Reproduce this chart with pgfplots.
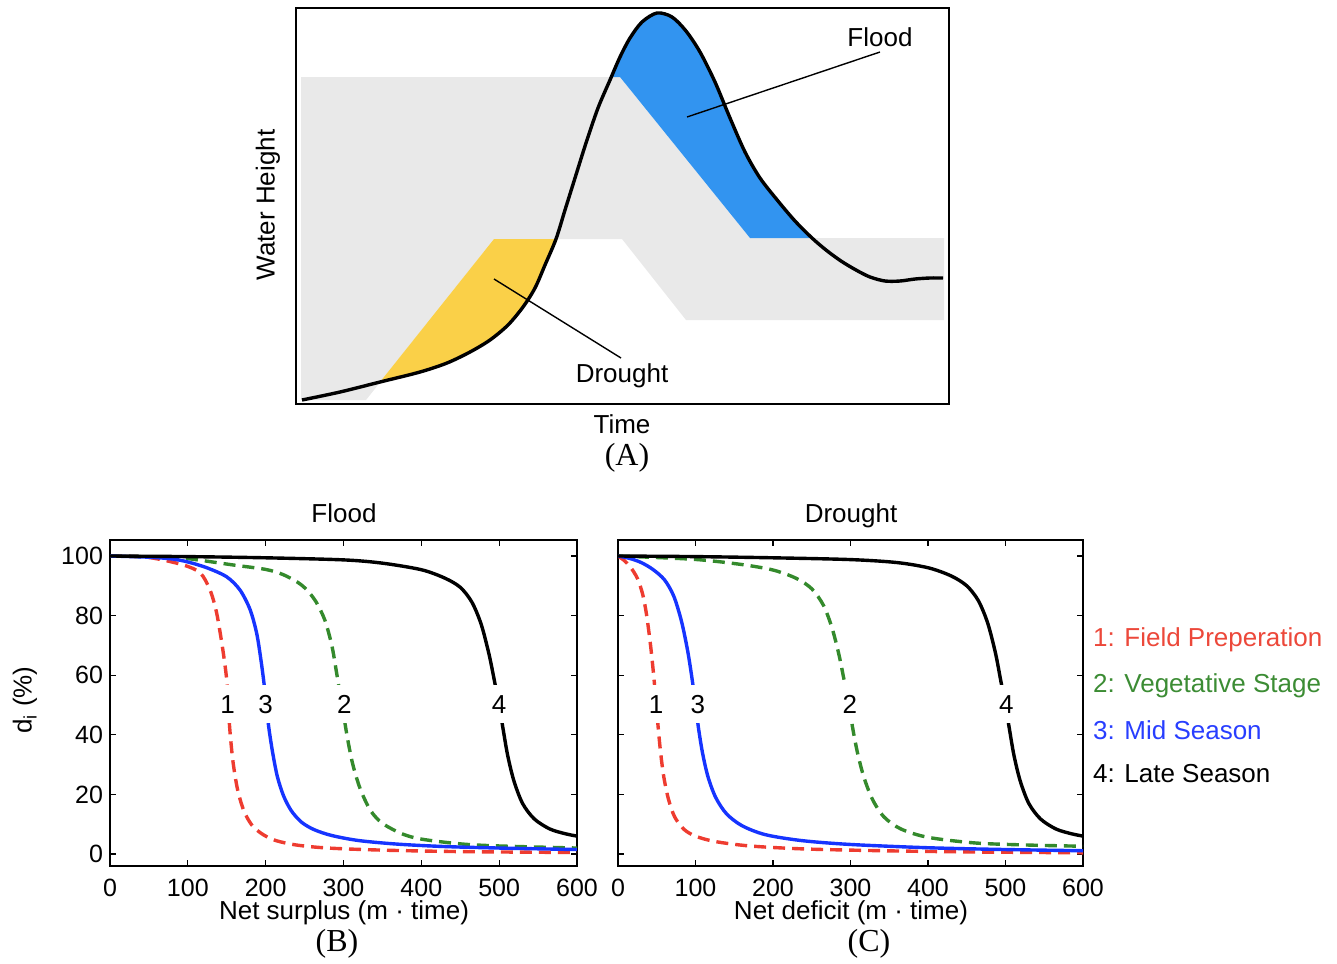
\documentclass[border=0pt]{standalone}
\usepackage{fontspec}
\setmainfont{Liberation Sans}
\newfontfamily\seriffont{Liberation Serif}
\usepackage{pgfplots}
\pgfplotsset{compat=1.18}
\definecolor{cRed}{RGB}{238,60,48}
\definecolor{cGreen}{RGB}{52,138,44}
\definecolor{cBlue}{RGB}{22,52,255}
\definecolor{tRed}{RGB}{236,72,58}
\definecolor{tGreen}{RGB}{60,140,52}
\definecolor{tBlue}{RGB}{40,62,255}
\definecolor{fGray}{RGB}{233,233,233}
\definecolor{fYellow}{RGB}{250,208,72}
\definecolor{fBlue}{RGB}{50,148,240}
\newcommand{\lab}{\fontsize{13}{15}\selectfont}
\newcommand{\tlab}{\fontsize{12.5}{14}\selectfont}
\newcommand{\plab}{\seriffont\fontsize{16}{18}\selectfont}
\pgfplotsset{
  lower/.style={
    anchor=north west, scale only axis, width=233.5pt, height=163pt,
    xmin=0, xmax=600, ymin=-4.03, ymax=105.37,
    xtick={0,100,...,600}, ytick={0,20,...,100},
    tick align=inside, tick pos=both, major tick length=3pt,
    every tick/.style={black, line width=0.6pt},
    axis line style={line width=0.75pt},
    tick label style={font=\tlab},
    /pgf/number format/assume math mode=true,
    xticklabel style={inner sep=0pt, yshift=-6.5pt},
  },
}
\tikzset{
  dsh/.style={line width=1.7pt, dash pattern=on 6pt off 3.5pt, smooth, tension=0.5},
  sol/.style={line width=1.7pt, smooth, tension=0.5},
  numlab/.style={fill=white, inner xsep=1.5pt, inner ysep=5pt, font=\lab},
}
\begin{document}
\begin{tikzpicture}
\useasboundingbox (0,0) rectangle (668.5pt,-481.5pt);
% ---------------- Panel A ----------------
\begin{axis}[at={(148pt,-4pt)}, anchor=north west, scale only axis,
  width=326.5pt, height=198pt, xmin=296, xmax=949, ymin=8, ymax=404,
  y dir=reverse, ticks=none, axis line style={line width=1pt}]
\addplot[fill=fGray, draw=none] coordinates {(301,77) (620,77) (750,238) (944,238) (944,320) (686,320) (622,239) (494,239) (366,400) (301,400)} -- cycle;
\addplot[fill=fYellow, draw=none] coordinates {(380,382) (494,239) (556,239) (550,252) (543,267) (535,288) (523,307) (508,325) (490,340) (470,352) (447,363) (420,372) (380,382)} -- cycle;
\addplot[fill=fBlue, draw=none] coordinates {(612,77) (620,57) (627,43) (634,31) (640,23) (648,16) (657,13) (665,14) (673,17) (682,26) (690,37) (698,49) (707,63) (715,82) (723,103) (732,123) (740,143) (748,159) (757,173) (768,189) (780,203) (795,221) (812,238) (750,238) (620,77)} -- cycle;
\addplot[black, line width=1.7pt, smooth, tension=0.5] coordinates {(302,400) (340,392) (380,382) (420,372) (447,363) (470,352) (490,340) (508,325) (523,307) (535,288) (545,265) (556,239) (565,210) (575,178) (586,143) (598,108) (610,80) (620,57) (630,38) (642,22) (657,13) (672,17) (686,31) (700,52) (715,82) (730,118) (745,152) (760,178) (778,201) (795,221) (812,238) (826,250) (841,261) (856,270) (870,277) (885,281) (900,281) (915,279) (930,278) (943,278)};
\addplot[black, line width=0.7pt] coordinates {(687,117) (880,52)};
\addplot[black, line width=0.7pt] coordinates {(494,279) (621,358)};
\end{axis}
\node[font=\lab] at (440pt,-18.5pt) {Flood};
\node[font=\lab] at (311pt,-188pt) {Drought};
\node[font=\lab, rotate=90] at (134pt,-102.5pt) {Water Height};
\node[font=\lab] at (311pt,-212pt) {Time};
\node[font=\plab] at (313.5pt,-229pt) {(A)};
% ---------------- Panel B ----------------
\begin{axis}[lower, at={(55pt,-270pt)}]
\addplot[cRed, dsh] coordinates {(0,100) (50,99.5) (94,97) (116,94.3) (128.5,88.6) (137,80.9) (145,68.5) (150,58.4) (152,50) (154,41.6) (158,31) (164,21.5) (172,14.5) (182,9.8) (195,6.8) (212,4.6) (240,3) (280,2) (350,1.3) (450,0.8) (600,0.5)};
\addplot[cGreen, dsh] coordinates {(0,100) (50,99.7) (94,99.3) (158,97) (200,95.5) (222,93.8) (241,91.2) (253,88.6) (265,84.5) (276,78.5) (285,70) (291,61) (296,53) (300,47) (305,39) (312,30) (322,21.5) (335,14.5) (350,10.3) (375,6.8) (400,5) (450,3.4) (500,2.7) (600,2)};
\addplot[cBlue, sol] coordinates {(0,100) (50,99.6) (80,99) (100,98) (125,96) (150,93) (167,88.6) (180,82) (188.5,74) (194,65) (198,57) (201,50) (204,42.5) (209,34) (215,26) (223,19.5) (233,14.5) (246,10.7) (262,8.2) (285,6.2) (320,4.5) (370,3.3) (430,2.5) (500,2) (600,1.5)};
\addplot[black, sol] coordinates {(0,100) (100,99.8) (200,99.4) (300,98.7) (350,97.6) (400,95.4) (430,92.6) (450,89.5) (465,84.5) (477,77) (487,67) (494,58) (500,50) (505,42) (511,33) (519,24.5) (530,17) (545,11.8) (565,8.4) (585,6.8) (600,6)};
\node[numlab] at (axis cs:151,50.3) {1};
\node[numlab] at (axis cs:200,50.3) {3};
\node[numlab] at (axis cs:301,50.3) {2};
\node[numlab] at (axis cs:500,50.3) {4};
\end{axis}
\node[font=\lab] at (172pt,-256.5pt) {Flood};
\node[font=\lab, inner sep=0pt] at (172pt,-456.5pt) {Net surplus (m · time)};
\node[font=\plab, inner sep=0pt] at (168.5pt,-472pt) {(B)};
\node[font=\lab, rotate=90] at (12.5pt,-350pt) {d\textsubscript{i} (\%)};
% ---------------- Panel C ----------------
\begin{axis}[lower, at={(309pt,-270pt)}, width=232.5pt, yticklabels={}]
\addplot[cRed, dsh] coordinates {(0,100) (8,98.5) (16,96.3) (25,92.5) (32,87) (37,80) (42,70) (46,60) (49,51) (52,42) (55,34) (59,26) (65,18.5) (73,12.5) (85,8.3) (100,6) (125,4.2) (170,2.7) (240,1.7) (340,1.1) (450,0.7) (600,0.4)};
\addplot[cGreen, dsh] coordinates {(0,100) (97,98.9) (158,97.2) (200,95.3) (230,92.5) (250,89) (265,83.5) (276,76) (285,67) (292,58) (298,50) (303,42) (309,34) (317,26) (328,18.5) (343,12.5) (365,8.4) (400,5.6) (461,3.7) (530,3) (600,2.6)};
\addplot[cBlue, sol] coordinates {(0,100) (15,99.2) (30,97.8) (45,95.5) (60,92) (72,86.5) (82,78) (90,68) (96,58) (100,50) (104,42) (109,34) (116,26) (126,19) (140,13.5) (160,9.5) (190,6.5) (237,4.5) (300,3.2) (400,2.1) (500,1.5) (600,1.1)};
\addplot[black, sol] coordinates {(0,100) (100,99.8) (200,99.4) (300,98.8) (360,97.8) (401,96) (430,93.3) (450,90) (465,85) (477,77.5) (487,67.5) (494,58) (500,50) (505,42) (511,33) (519,24.5) (530,17) (545,11.8) (565,8.4) (585,6.8) (600,6)};
\node[numlab] at (axis cs:49,50.3) {1};
\node[numlab] at (axis cs:103,50.3) {3};
\node[numlab] at (axis cs:299,50.3) {2};
\node[numlab] at (axis cs:501,50.3) {4};
\end{axis}
\node[font=\lab] at (425.5pt,-258pt) {Drought};
\node[font=\lab, inner sep=0pt] at (425.5pt,-456.5pt) {Net deficit (m · time)};
\node[font=\plab, inner sep=0pt] at (434.5pt,-472pt) {(C)};
% legend
\node[font=\lab, text=tRed, anchor=west] at (543pt,-320pt) {1: Field Preperation};
\node[font=\lab, text=tGreen, anchor=west] at (543pt,-343pt) {2: Vegetative Stage};
\node[font=\lab, text=tBlue, anchor=west] at (543pt,-365pt) {3: Mid Season};
\node[font=\lab, text=black, anchor=west] at (543pt,-387pt) {4: Late Season};
\end{tikzpicture}
\end{document}
